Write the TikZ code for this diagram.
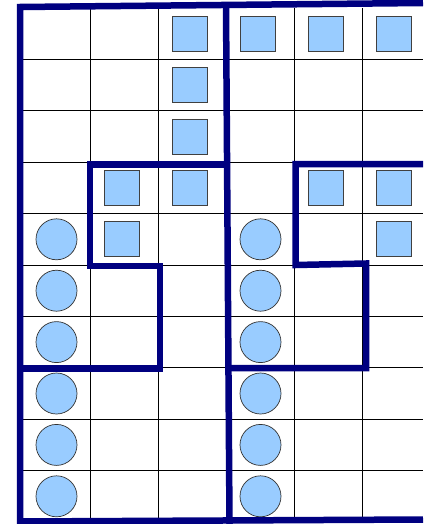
\documentclass[tikz,border=0pt]{standalone}
\usepackage{tikz}
\definecolor{wallnavy}{RGB}{0,0,128}
\definecolor{tokenblue}{RGB}{153,204,255}

\begin{document}
\begin{tikzpicture}[x=1pt, y=-1pt,
  sq/.style={draw=black!75, fill=tokenblue, line width=0.9pt, minimum size=35pt, inner sep=0pt},
  ci/.style={circle, draw=black!80, fill=tokenblue, line width=0.7pt, minimum size=41pt, inner sep=0pt},
  wall/.style={wallnavy, line width=6.5pt, line join=miter}]
  \useasboundingbox (0,0) rectangle (423,524);
  \foreach \x in {90,158,294,362}
    \draw[line width=0.8pt] (\x,8) -- (\x,522);
  \foreach \k in {1,...,9}
    \draw[line width=0.8pt] (22,{8+51.4*\k}) -- (423,{8+51.4*\k});
  \foreach \row/\col in {0/2,0/3,0/4,0/5,1/2,2/2,3/1,3/2,3/4,3/5,4/1,4/5}
    \node[sq] (sq\row\col) at ({22+68*\col+31.5},{8+51.4*\row+25.7}) {};
  \foreach \row in {4,...,9}
    \foreach \col in {0,3}
      \node[ci] (ci\row\col) at ({22+68*\col+34.5},{8+51.4*\row+25.7}) {};
  \draw[wall] (20,524) -- (20,7) -- (423,3);
  \draw[wall] (226,5) -- (229.5,524);
  \draw[wall] (20,521.5) -- (423,519.5);
  \draw[wall] (226,164.5) -- (90,164.5) -- (90,266) -- (160,266) -- (160,368.5) -- (20,368.5);
  \draw[wall] (423,164) -- (295.5,164) -- (295.5,265) -- (366,263.5) -- (366,368) -- (229,368);
\end{tikzpicture}
\end{document}
